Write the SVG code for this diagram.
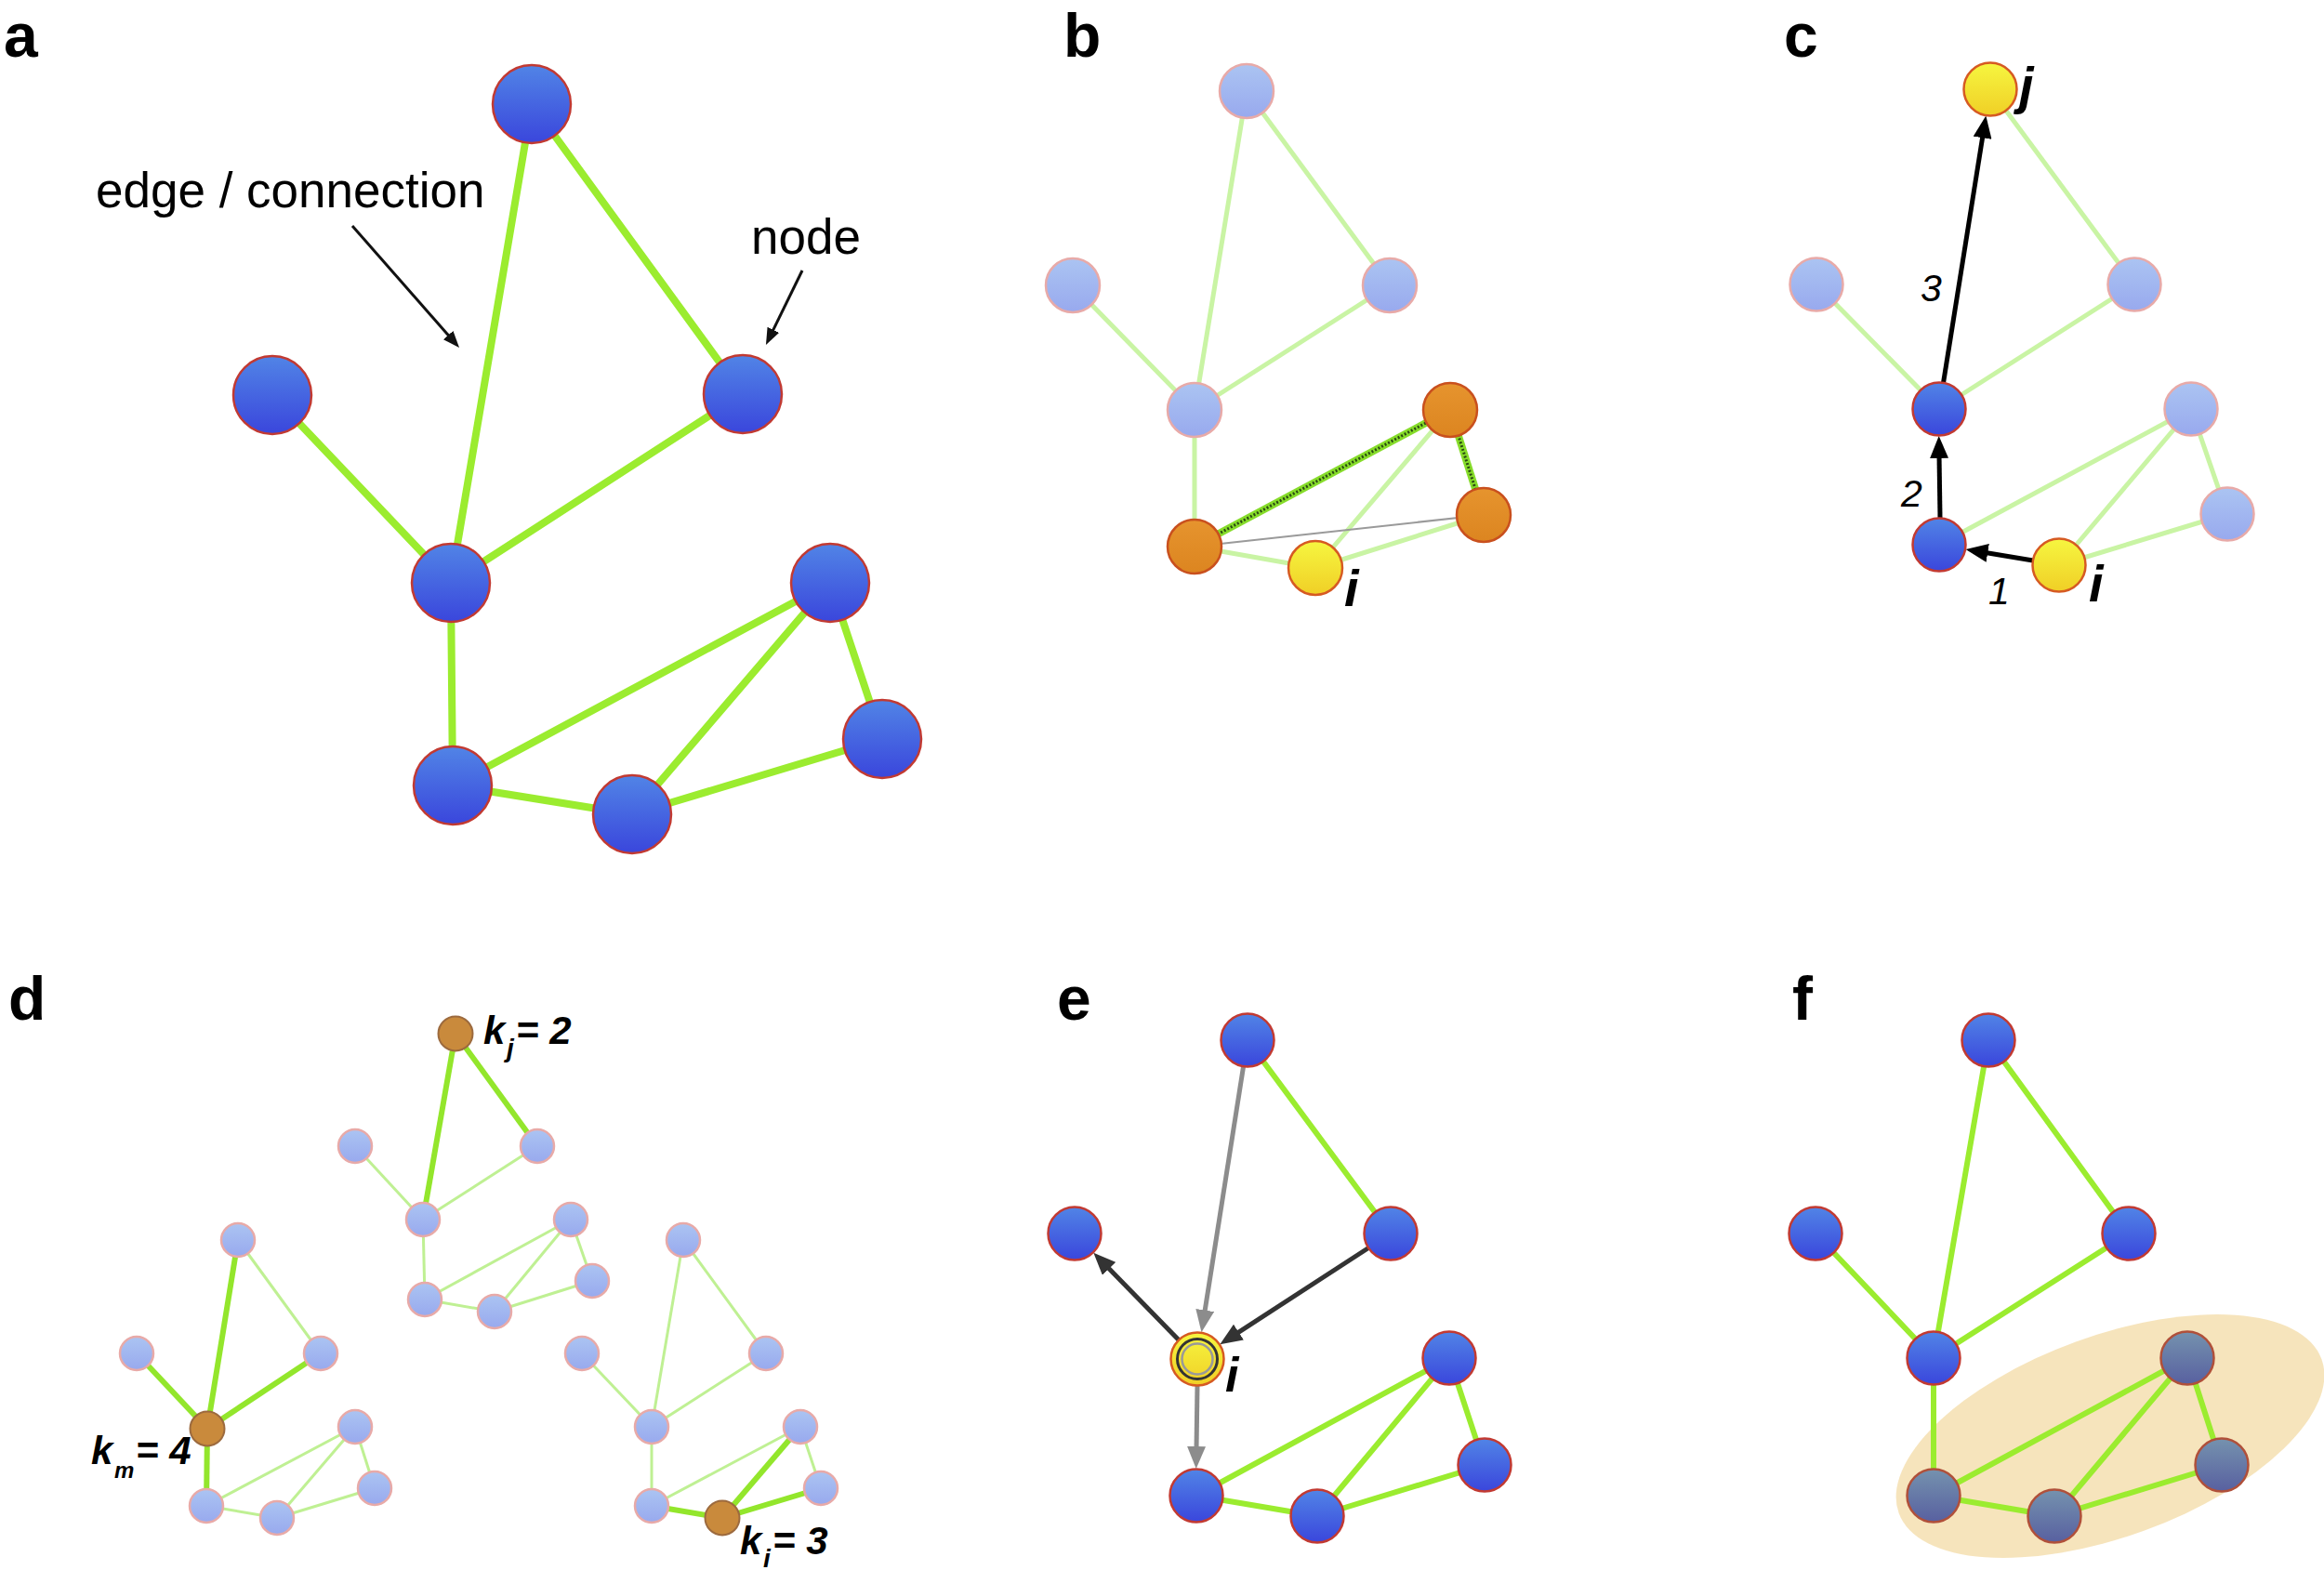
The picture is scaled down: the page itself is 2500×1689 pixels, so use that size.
<svg xmlns="http://www.w3.org/2000/svg" width="2500" height="1689" viewBox="0 0 2500 1689">
<defs>
<linearGradient id="gB" x1="0" y1="0" x2="0" y2="1"><stop offset="0" stop-color="#5184e6"/><stop offset="1" stop-color="#3a46dc"/></linearGradient>
<linearGradient id="gL" x1="0" y1="0" x2="0" y2="1"><stop offset="0" stop-color="#abc4f2"/><stop offset="1" stop-color="#98a9ee"/></linearGradient>
<linearGradient id="gY" x1="0" y1="0" x2="0" y2="1"><stop offset="0" stop-color="#f6f640"/><stop offset="1" stop-color="#f0cf26"/></linearGradient>
<linearGradient id="gO" x1="0" y1="0" x2="0" y2="1"><stop offset="0" stop-color="#e6942e"/><stop offset="1" stop-color="#dc8520"/></linearGradient>
<linearGradient id="gG" x1="0" y1="0" x2="0" y2="1"><stop offset="0" stop-color="#7592ae"/><stop offset="1" stop-color="#5860a0"/></linearGradient>
<marker id="mA" markerUnits="userSpaceOnUse" markerWidth="18" markerHeight="14" viewBox="0 0 18 14" refX="4" refY="7" orient="auto"><path d="M0,0 L18,7 L0,14 z" fill="#111"/></marker>
<marker id="mC" markerUnits="userSpaceOnUse" markerWidth="24" markerHeight="20" viewBox="0 0 24 20" refX="4" refY="10" orient="auto"><path d="M0,0 L24,10 L0,20 z" fill="#000"/></marker>
<marker id="mD" markerUnits="userSpaceOnUse" markerWidth="24" markerHeight="20" viewBox="0 0 24 20" refX="4" refY="10" orient="auto"><path d="M0,0 L24,10 L0,20 z" fill="#333"/></marker>
<marker id="mG" markerUnits="userSpaceOnUse" markerWidth="24" markerHeight="20" viewBox="0 0 24 20" refX="4" refY="10" orient="auto"><path d="M0,0 L24,10 L0,20 z" fill="#8c8c8c"/></marker>
</defs>
<style>
.e{stroke:#9bec2f;stroke-width:8;stroke-linecap:round}
.e6{stroke:#9bec2f;stroke-width:6;stroke-linecap:round}
.el{stroke:#c9f4a4;stroke-width:5}
.ed{stroke:#bff093;stroke-width:3}
.edt{stroke:#93e62c;stroke-width:6}
.hl{stroke:#86dc2a;stroke-width:8}
.hld{stroke:#2a4a12;stroke-width:3;stroke-dasharray:2 2}
.gr{stroke:#9a9a9a;stroke-width:2}
.nb{fill:url(#gB);stroke:#c23a32;stroke-width:2.5}
.nl{fill:url(#gL);stroke:#e8aaa8;stroke-width:2.5}
.ny{fill:url(#gY);stroke:#d65a22;stroke-width:2.5}
.no{fill:url(#gO);stroke:#c9501e;stroke-width:2.5}
.nd{fill:#c98a3c;stroke:#9c6a3e;stroke-width:2}
.ng{fill:url(#gG);stroke:#b0503a;stroke-width:2.5}
.lbl{font-family:"Liberation Sans",Arial,sans-serif;font-weight:bold;font-size:66px;fill:#000}
.txt{font-family:"Liberation Sans",Arial,sans-serif;font-size:53px;fill:#000}
.it{font-family:"Liberation Sans",Arial,sans-serif;font-style:italic;font-weight:bold;fill:#000}
.num{font-family:"Liberation Sans",Arial,sans-serif;font-style:italic;font-size:41px;fill:#000}
</style>
<rect width="2500" height="1689" fill="#fff"/>

<g id="labels">
<text class="lbl" x="4" y="61">a</text>
<text class="lbl" x="1144" y="61">b</text>
<text class="lbl" x="1919" y="61">c</text>
<text class="lbl" x="9" y="1097">d</text>
<text class="lbl" x="1137" y="1097">e</text>
<text class="lbl" x="1928" y="1097">f</text>
</g>

<ellipse id="f-module" cx="2270" cy="1545" rx="242" ry="108" transform="rotate(-20 2270 1545)" fill="#f3dba6" opacity="0.75"/>

<g id="connectors">
<g id="a-edges">
<line class="e" x1="572" y1="112" x2="485" y2="627"/>
<line class="e" x1="572" y1="112" x2="799" y2="424"/>
<line class="e" x1="293" y1="425" x2="485" y2="627"/>
<line class="e" x1="799" y1="424" x2="485" y2="627"/>
<line class="e" x1="485" y1="627" x2="487" y2="845"/>
<line class="e" x1="487" y1="845" x2="893" y2="627"/>
<line class="e" x1="487" y1="845" x2="680" y2="876"/>
<line class="e" x1="680" y1="876" x2="893" y2="627"/>
<line class="e" x1="680" y1="876" x2="949" y2="795"/>
<line class="e" x1="893" y1="627" x2="949" y2="795"/>
<line x1="379" y1="243" x2="484.8" y2="363.5" stroke="#111" stroke-width="3" marker-end="url(#mA)"/>
<line x1="863" y1="291" x2="830.1" y2="358.4" stroke="#111" stroke-width="3" marker-end="url(#mA)"/>
</g>
<g id="b-edges">
<line class="el" x1="1341" y1="98" x2="1285" y2="441"/>
<line class="el" x1="1341" y1="98" x2="1495" y2="307"/>
<line class="el" x1="1154" y1="307" x2="1285" y2="441"/>
<line class="el" x1="1495" y1="307" x2="1285" y2="441"/>
<line class="el" x1="1285" y1="441" x2="1285" y2="588"/>
<line class="el" x1="1285" y1="588" x2="1415" y2="611"/>
<line class="el" x1="1415" y1="611" x2="1560" y2="441"/>
<line class="el" x1="1415" y1="611" x2="1596" y2="554"/>
<line class="hl" x1="1285" y1="588" x2="1560" y2="441"/>
<line class="hld" x1="1285" y1="588" x2="1560" y2="441"/>
<line class="hl" x1="1560" y1="441" x2="1596" y2="554"/>
<line class="hld" x1="1560" y1="441" x2="1596" y2="554"/>
<line class="gr" x1="1285" y1="588" x2="1596" y2="554"/>
</g>
<g id="c-edges">
<line class="el" x1="2141" y1="96" x2="2296" y2="306"/>
<line class="el" x1="1954" y1="306" x2="2086" y2="440"/>
<line class="el" x1="2296" y1="306" x2="2086" y2="440"/>
<line class="el" x1="2086" y1="586" x2="2357" y2="440"/>
<line class="el" x1="2215" y1="608" x2="2357" y2="440"/>
<line class="el" x1="2215" y1="608" x2="2396" y2="553"/>
<line class="el" x1="2357" y1="440" x2="2396" y2="553"/>
<line x1="2090.5" y1="412" x2="2133.2" y2="144.3" stroke="#000" stroke-width="5" marker-end="url(#mC)"/>
<line x1="2087" y1="557" x2="2086" y2="489" stroke="#000" stroke-width="5" marker-end="url(#mC)"/>
<line x1="2187" y1="603" x2="2134.3" y2="594.3" stroke="#000" stroke-width="5" marker-end="url(#mC)"/>
</g>
<g id="d-edges">
<line class="ed" x1="382" y1="1233" x2="455" y2="1312"/>
<line class="ed" x1="578" y1="1233" x2="455" y2="1312"/>
<line class="ed" x1="455" y1="1312" x2="457" y2="1398"/>
<line class="ed" x1="457" y1="1398" x2="614" y2="1312"/>
<line class="ed" x1="457" y1="1398" x2="532" y2="1411"/>
<line class="ed" x1="532" y1="1411" x2="614" y2="1312"/>
<line class="ed" x1="532" y1="1411" x2="637" y2="1378"/>
<line class="ed" x1="614" y1="1312" x2="637" y2="1378"/>
<line class="edt" x1="490" y1="1112" x2="455" y2="1312"/>
<line class="edt" x1="490" y1="1112" x2="578" y2="1233"/>

<line class="ed" x1="256" y1="1334" x2="345" y2="1456"/>
<line class="ed" x1="222" y1="1620" x2="382" y2="1535"/>
<line class="ed" x1="222" y1="1620" x2="298" y2="1633"/>
<line class="ed" x1="298" y1="1633" x2="382" y2="1535"/>
<line class="ed" x1="298" y1="1633" x2="403" y2="1601"/>
<line class="ed" x1="382" y1="1535" x2="403" y2="1601"/>
<line class="edt" x1="256" y1="1334" x2="223" y2="1537"/>
<line class="edt" x1="147" y1="1456" x2="223" y2="1537"/>
<line class="edt" x1="345" y1="1456" x2="223" y2="1537"/>
<line class="edt" x1="223" y1="1537" x2="222" y2="1620"/>

<line class="ed" x1="735" y1="1334" x2="701" y2="1535"/>
<line class="ed" x1="735" y1="1334" x2="824" y2="1456"/>
<line class="ed" x1="626" y1="1456" x2="701" y2="1535"/>
<line class="ed" x1="824" y1="1456" x2="701" y2="1535"/>
<line class="ed" x1="701" y1="1535" x2="701" y2="1620"/>
<line class="ed" x1="701" y1="1620" x2="861" y2="1535"/>
<line class="ed" x1="861" y1="1535" x2="883" y2="1601"/>
<line class="edt" x1="777" y1="1633" x2="701" y2="1620"/>
<line class="edt" x1="777" y1="1633" x2="861" y2="1535"/>
<line class="edt" x1="777" y1="1633" x2="883" y2="1601"/>
</g>
<g id="e-edges">
<line class="e6" x1="1342" y1="1119" x2="1496" y2="1327"/>
<line class="e6" x1="1287" y1="1609" x2="1559" y2="1461"/>
<line class="e6" x1="1287" y1="1609" x2="1417" y2="1631"/>
<line class="e6" x1="1417" y1="1631" x2="1559" y2="1461"/>
<line class="e6" x1="1417" y1="1631" x2="1597" y2="1576"/>
<line class="e6" x1="1559" y1="1461" x2="1597" y2="1576"/>
<line x1="1337.6" y1="1147.2" x2="1295.6" y2="1413.5" stroke="#8c8c8c" stroke-width="5" marker-end="url(#mG)"/>
<line x1="1288" y1="1491" x2="1287" y2="1560" stroke="#8c8c8c" stroke-width="5" marker-end="url(#mG)"/>
<line x1="1267.7" y1="1441.3" x2="1190.3" y2="1362" stroke="#333" stroke-width="5" marker-end="url(#mD)"/>
<line x1="1472.1" y1="1342.5" x2="1329.1" y2="1435.3" stroke="#333" stroke-width="5" marker-end="url(#mD)"/>
</g>
<g id="f-edges">
<line class="e6" x1="2139" y1="1119" x2="2080" y2="1461"/>
<line class="e6" x1="2139" y1="1119" x2="2290" y2="1327"/>
<line class="e6" x1="1953" y1="1327" x2="2080" y2="1461"/>
<line class="e6" x1="2290" y1="1327" x2="2080" y2="1461"/>
<line class="e6" x1="2080" y1="1461" x2="2080" y2="1609"/>
<line class="e6" x1="2080" y1="1609" x2="2353" y2="1461"/>
<line class="e6" x1="2080" y1="1609" x2="2210" y2="1631"/>
<line class="e6" x1="2210" y1="1631" x2="2353" y2="1461"/>
<line class="e6" x1="2210" y1="1631" x2="2390" y2="1576"/>
<line class="e6" x1="2353" y1="1461" x2="2390" y2="1576"/>
</g>
</g>

<g id="a-nodes">
<g id="a-n1"><circle class="nb" cx="572" cy="112" r="42"/></g>
<g id="a-n2"><circle class="nb" cx="293" cy="425" r="42"/></g>
<g id="a-n3"><circle class="nb" cx="799" cy="424" r="42"/></g>
<g id="a-n4"><circle class="nb" cx="485" cy="627" r="42"/></g>
<g id="a-n5"><circle class="nb" cx="893" cy="627" r="42"/></g>
<g id="a-n6"><circle class="nb" cx="949" cy="795" r="42"/></g>
<g id="a-n7"><circle class="nb" cx="487" cy="845" r="42"/></g>
<g id="a-n8"><circle class="nb" cx="680" cy="876" r="42"/></g>
</g>
<g id="b-nodes">
<g id="b-n1"><circle class="nl" cx="1341" cy="98" r="29"/></g>
<g id="b-n2"><circle class="nl" cx="1154" cy="307" r="29"/></g>
<g id="b-n3"><circle class="nl" cx="1495" cy="307" r="29"/></g>
<g id="b-n4"><circle class="nl" cx="1285" cy="441" r="29"/></g>
<g id="b-n5"><circle class="no" cx="1560" cy="441" r="29"/></g>
<g id="b-n6"><circle class="no" cx="1596" cy="554" r="29"/></g>
<g id="b-n7"><circle class="no" cx="1285" cy="588" r="29"/></g>
<g id="b-n8"><circle class="ny" cx="1415" cy="611" r="29"/></g>
</g>
<g id="c-nodes">
<g id="c-n1"><circle class="ny" cx="2141" cy="96" r="28.5"/></g>
<g id="c-n2"><circle class="nl" cx="1954" cy="306" r="28.5"/></g>
<g id="c-n3"><circle class="nl" cx="2296" cy="306" r="28.5"/></g>
<g id="c-n4"><circle class="nb" cx="2086" cy="440" r="28.5"/></g>
<g id="c-n5"><circle class="nl" cx="2357" cy="440" r="28.5"/></g>
<g id="c-n6"><circle class="nl" cx="2396" cy="553" r="28.5"/></g>
<g id="c-n7"><circle class="nb" cx="2086" cy="586" r="28.5"/></g>
<g id="c-n8"><circle class="ny" cx="2215" cy="608" r="28.5"/></g>
</g>
<g id="d-nodes">
<g id="d-t1"><circle class="nd" cx="490" cy="1112" r="18.5"/></g>
<g id="d-t2"><circle class="nl" cx="382" cy="1233" r="18"/></g>
<g id="d-t3"><circle class="nl" cx="578" cy="1233" r="18"/></g>
<g id="d-t4"><circle class="nl" cx="455" cy="1312" r="18"/></g>
<g id="d-t5"><circle class="nl" cx="614" cy="1312" r="18"/></g>
<g id="d-t6"><circle class="nl" cx="637" cy="1378" r="18"/></g>
<g id="d-t7"><circle class="nl" cx="457" cy="1398" r="18"/></g>
<g id="d-t8"><circle class="nl" cx="532" cy="1411" r="18"/></g>
<g id="d-l1"><circle class="nl" cx="256" cy="1334" r="18"/></g>
<g id="d-l2"><circle class="nl" cx="147" cy="1456" r="18"/></g>
<g id="d-l3"><circle class="nl" cx="345" cy="1456" r="18"/></g>
<g id="d-l4"><circle class="nd" cx="223" cy="1537" r="18.5"/></g>
<g id="d-l5"><circle class="nl" cx="382" cy="1535" r="18"/></g>
<g id="d-l6"><circle class="nl" cx="403" cy="1601" r="18"/></g>
<g id="d-l7"><circle class="nl" cx="222" cy="1620" r="18"/></g>
<g id="d-l8"><circle class="nl" cx="298" cy="1633" r="18"/></g>
<g id="d-r1"><circle class="nl" cx="735" cy="1334" r="18"/></g>
<g id="d-r2"><circle class="nl" cx="626" cy="1456" r="18"/></g>
<g id="d-r3"><circle class="nl" cx="824" cy="1456" r="18"/></g>
<g id="d-r4"><circle class="nl" cx="701" cy="1535" r="18"/></g>
<g id="d-r5"><circle class="nl" cx="861" cy="1535" r="18"/></g>
<g id="d-r6"><circle class="nl" cx="883" cy="1601" r="18"/></g>
<g id="d-r7"><circle class="nl" cx="701" cy="1620" r="18"/></g>
<g id="d-r8"><circle class="nd" cx="777" cy="1633" r="18.5"/></g>
</g>
<g id="e-nodes">
<g id="e-n1"><circle class="nb" cx="1342" cy="1119" r="28.5"/></g>
<g id="e-n2"><circle class="nb" cx="1156" cy="1327" r="28.5"/></g>
<g id="e-n3"><circle class="nb" cx="1496" cy="1327" r="28.5"/></g>
<g id="e-n4"><circle class="ny" cx="1288" cy="1462" r="28.5"/><circle cx="1288" cy="1462" r="21.5" fill="none" stroke="#333" stroke-width="3"/><circle cx="1288" cy="1462" r="16.5" fill="none" stroke="#999" stroke-width="2.5"/></g>
<g id="e-n5"><circle class="nb" cx="1559" cy="1461" r="28.5"/></g>
<g id="e-n6"><circle class="nb" cx="1597" cy="1576" r="28.5"/></g>
<g id="e-n7"><circle class="nb" cx="1287" cy="1609" r="28.5"/></g>
<g id="e-n8"><circle class="nb" cx="1417" cy="1631" r="28.5"/></g>
</g>
<g id="f-nodes">
<g id="f-n1"><circle class="nb" cx="2139" cy="1119" r="28.5"/></g>
<g id="f-n2"><circle class="nb" cx="1953" cy="1327" r="28.5"/></g>
<g id="f-n3"><circle class="nb" cx="2290" cy="1327" r="28.5"/></g>
<g id="f-n4"><circle class="nb" cx="2080" cy="1461" r="28.5"/></g>
<g id="f-n5"><circle class="ng" cx="2353" cy="1461" r="28.5"/></g>
<g id="f-n6"><circle class="ng" cx="2390" cy="1576" r="28.5"/></g>
<g id="f-n7"><circle class="ng" cx="2080" cy="1609" r="28.5"/></g>
<g id="f-n8"><circle class="ng" cx="2210" cy="1631" r="28.5"/></g>
</g>

<g id="texts">
<text class="txt" x="103" y="223">edge / connection</text>
<text class="txt" x="808" y="273">node</text>
<text class="it" x="1446" y="652" font-size="56">i</text>
<text class="it" x="2172" y="111" font-size="56">j</text>
<text class="num" x="2066" y="324">3</text>
<text class="num" x="2045" y="545">2</text>
<text class="num" x="2139" y="650">1</text>
<text class="it" x="2247" y="647" font-size="56">i</text>
<text class="it" x="1318" y="1497" font-size="52">i</text>
<text class="it" font-size="42"><tspan x="520" y="1123">k</tspan><tspan x="545" y="1137" font-size="28">j</tspan><tspan x="555" y="1123">= 2</tspan></text>
<text class="it" font-size="42"><tspan x="98" y="1575">k</tspan><tspan x="123" y="1590" font-size="24">m</tspan><tspan x="146" y="1575">= 4</tspan></text>
<text class="it" font-size="42"><tspan x="796" y="1672">k</tspan><tspan x="821" y="1686" font-size="28">i</tspan><tspan x="831" y="1672">= 3</tspan></text>
</g>
</svg>
